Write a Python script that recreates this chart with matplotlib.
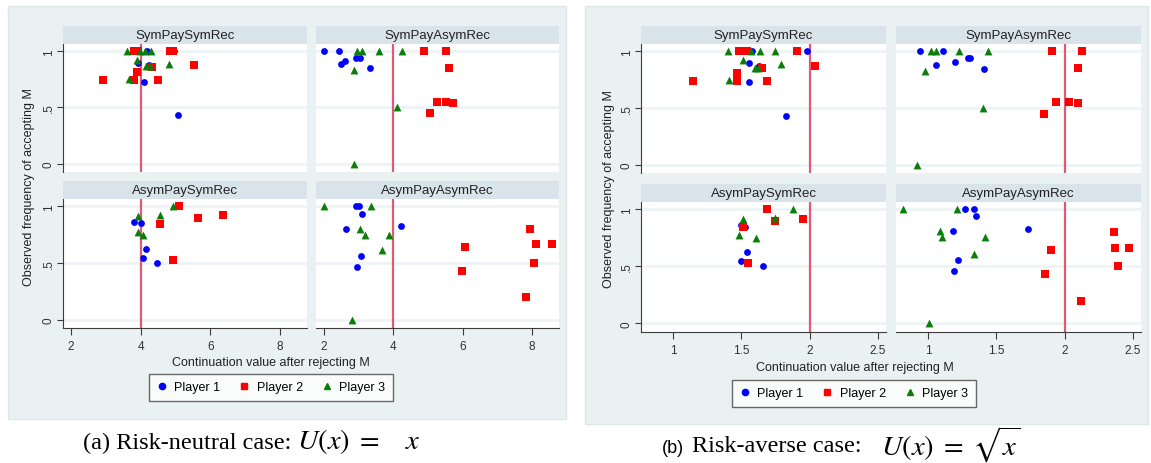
import matplotlib
matplotlib.use("Agg")
import matplotlib.pyplot as plt
from matplotlib.patches import Rectangle
from matplotlib.lines import Line2D

# facet titles (Stata by() layout, 2x2)
facets = ["SymPaySymRec", "SymPayAsymRec", "AsymPaySymRec", "AsymPayAsymRec"]
players = ["Player 1", "Player 2", "Player 3"]

# ---- (a) risk-neutral: (continuation value, frequency of accepting) ----
a_ss_p1 = [(3.93, .90), (4.09, .73), (4.23, .88), (4.18, 1.0), (4.97, 1.0), (5.07, .43)]
a_ss_p2 = [(2.93, .74), (3.82, .74), (3.89, .82), (3.82, 1.0), (3.92, 1.0), (4.33, .86),
           (4.49, .74), (4.85, 1.0), (4.93, 1.0), (5.52, .88)]
a_ss_p3 = [(3.60, 1.0), (3.99, 1.0), (4.13, 1.0), (4.31, 1.0), (3.91, .92), (3.68, .75),
           (4.16, .87), (4.26, .87), (4.82, .89)]

a_sa_p1 = [(2.00, 1.0), (2.44, 1.0), (2.49, .89), (2.61, .91), (2.92, .94), (3.04, .94), (3.33, .85)]
a_sa_p2 = [(4.89, 1.0), (5.51, 1.0), (5.60, .855), (5.27, .55), (5.51, .55), (5.73, .54), (5.05, .45)]
a_sa_p3 = [(2.94, 1.0), (3.09, 1.0), (3.58, 1.0), (4.26, 1.0), (2.86, .83), (4.10, .50), (2.86, 0.0)]

a_as_p1 = [(3.82, .865), (4.01, .85), (4.15, .625), (4.08, .546), (4.47, .50)]
a_as_p2 = [(5.09, 1.0), (4.56, .847), (5.65, .90), (6.36, .92), (4.93, .53)]
a_as_p3 = [(3.92, .915), (4.55, .92), (4.92, 1.0), (3.92, .776), (4.08, .746)]

a_aa_p1 = [(2.92, 1.0), (3.02, 1.0), (3.11, .935), (2.63, .80), (4.22, .826), (3.06, .557), (2.94, .46)]
a_aa_p2 = [(7.93, .80), (6.08, .64), (8.11, .666), (8.58, .666), (8.07, .50), (5.98, .43), (7.82, .20)]
a_aa_p3 = [(2.00, 1.0), (3.36, 1.0), (3.03, .80), (3.18, .75), (3.87, .75), (3.66, .61), (2.80, 0.0)]

# ---- (b) risk-averse ----
b_ss_p1 = [(1.56, .90), (1.56, .725), (1.63, .87), (1.58, 1.0), (1.98, 1.0), (1.83, .43)]
b_ss_p2 = [(1.149, .74), (1.47, .74), (1.47, .81), (1.48, 1.0), (1.51, 1.0), (1.54, 1.0),
           (1.65, .85), (1.69, .74), (1.91, 1.0), (2.04, .87)]
b_ss_p3 = [(1.40, 1.0), (1.57, 1.0), (1.64, 1.0), (1.75, 1.0), (1.51, .92), (1.79, .89),
           (1.41, .745), (1.60, .85), (1.62, .85)]

b_sa_p1 = [(0.94, 1.0), (1.11, 1.0), (1.06, .88), (1.20, .91), (1.29, .94), (1.31, .94), (1.41, .84)]
b_sa_p2 = [(1.91, 1.0), (2.13, 1.0), (2.10, .85), (1.94, .55), (2.03, .55), (2.10, .54), (1.85, .45)]
b_sa_p3 = [(1.02, 1.0), (1.06, 1.0), (1.23, 1.0), (1.44, 1.0), (0.976, .83), (1.40, .50), (0.92, 0.0)]

b_as_p1 = [(1.497, .86), (1.53, .845), (1.54, .63), (1.495, .55), (1.66, .50)]
b_as_p2 = [(1.69, 1.0), (1.51, .85), (1.75, .90), (1.95, .92), (1.55, .53)]
b_as_p3 = [(1.51, .92), (1.75, .925), (1.88, 1.0), (1.485, .78), (1.61, .746)]

b_aa_p1 = [(1.27, 1.0), (1.34, 1.0), (1.35, .94), (1.18, .81), (1.73, .83), (1.22, .56), (1.19, .46)]
b_aa_p2 = [(2.36, .80), (1.90, .64), (2.37, .666), (2.47, .666), (2.39, .50), (1.86, .43), (2.12, .195)]
b_aa_p3 = [(0.82, 1.0), (1.21, 1.0), (1.09, .81), (1.10, .76), (1.42, .76), (1.34, .61), (1.01, 0.0)]

a_xticks = [2, 4, 6, 8]
b_xticks = [1, 1.5, 2, 2.5]

BG = "#eaf1f3"
STRIP = "#d8e3ea"
GRID = "#eef3f5"
AXC = "#3c3c3c"
COLORS = ["#0000ff", "#ff0000", "#0b7d0b"]
MARKERS = ["o", "s", "^"]
SIZES = [24, 30, 32]

plt.rcParams["font.family"] = ["Liberation Sans", "DejaVu Sans"]
plt.rcParams["mathtext.fontset"] = "stix"

W, H = 1151, 464
fig = plt.figure(figsize=(W / 100, H / 100), dpi=100)


def box(x0, y0, x1, y1):
    return [x0 / W, 1 - y1 / H, (x1 - x0) / W, (y1 - y0) / H]


def facet(x0, y0, x1, y1, title, series, xlim, ref, xticks, show_y, show_x):
    st = fig.add_axes(box(x0, y0 - 18, x1, y0))
    st.set_facecolor(STRIP)
    st.set_xticks([])
    st.set_yticks([])
    for s in st.spines.values():
        s.set_visible(False)
    st.text(0.5, 0.5, title, ha="center", va="center", fontsize=9.5, color="#222222")

    ax = fig.add_axes(box(x0, y0, x1, y1))
    ax.set_facecolor("white")
    ax.set_xlim(*xlim)
    ax.set_ylim(-0.075, 1.065)
    for yv in (0, 0.5, 1):
        ax.axhline(yv, color=GRID, lw=2, zorder=0)
    ax.axvline(ref, color="#e05a74", lw=1.6, zorder=1)
    for pts, c, m, sz in zip(series, COLORS, MARKERS, SIZES):
        ax.scatter([p[0] for p in pts], [p[1] for p in pts], c=c, marker=m, s=sz,
                   linewidths=0, zorder=3)
    for s in ["top", "right"]:
        ax.spines[s].set_visible(False)
    ax.spines["left"].set_visible(show_y)
    ax.spines["bottom"].set_visible(show_x)
    ax.spines["left"].set_color(AXC)
    ax.spines["bottom"].set_color(AXC)
    if show_y:
        ax.set_yticks([0, 0.5, 1])
        ax.set_yticklabels(["0", ".5", "1"], rotation=90, va="center")
        ax.tick_params(axis="y", length=4, color=AXC, labelsize=8.5, labelcolor="#333333", pad=2)
    else:
        ax.set_yticks([])
    if show_x:
        ax.set_xticks(xticks)
        ax.set_xticklabels([f"{t:g}" for t in xticks])
        ax.tick_params(axis="x", length=5, color=AXC, labelsize=8.5, labelcolor="#333333", pad=4)
    else:
        ax.set_xticks([])
    return ax


def panel(bg, cols, rows, data, xlim, ref, xticks, ylab_x, xlab, leg):
    fig.add_artist(Rectangle((bg[0] / W, 1 - bg[3] / H), (bg[2] - bg[0]) / W,
                             (bg[3] - bg[1]) / H, transform=fig.transFigure,
                             facecolor=BG, edgecolor="#dde6e9", lw=1, zorder=0))
    k = 0
    for r, (y0, y1) in enumerate(rows):
        for c, (x0, x1) in enumerate(cols):
            facet(x0, y0, x1, y1, facets[k], data[k], xlim, ref, xticks,
                  show_y=(c == 0), show_x=(r == 1))
            k += 1
    ymid = (rows[0][0] + rows[1][1]) / 2
    fig.text(ylab_x / W, 1 - ymid / H, "Observed frequency of accepting M", rotation=90,
             ha="center", va="center", fontsize=9, color="#222222")
    fig.text(xlab[0] / W, 1 - xlab[1] / H, "Continuation value after rejecting M",
             ha="center", va="center", fontsize=9, color="#222222")
    handles = [Line2D([], [], ls="", marker=m, color=c, ms=4.5) for m, c in zip(MARKERS, COLORS)]
    lg = fig.legend(handles, players, loc="center", bbox_to_anchor=(leg[0] / W, 1 - leg[1] / H),
                    ncol=3, fontsize=9, frameon=True, fancybox=False, edgecolor="#444444",
                    handlelength=0.8, handletextpad=0.6, columnspacing=1.5, borderpad=0.6)
    lg.get_frame().set_linewidth(1.0)


data_a = [[a_ss_p1, a_ss_p2, a_ss_p3], [a_sa_p1, a_sa_p2, a_sa_p3],
          [a_as_p1, a_as_p2, a_as_p3], [a_aa_p1, a_aa_p2, a_aa_p3]]
data_b = [[b_ss_p1, b_ss_p2, b_ss_p3], [b_sa_p1, b_sa_p2, b_sa_p3],
          [b_as_p1, b_as_p2, b_as_p3], [b_aa_p1, b_aa_p2, b_aa_p3]]

panel((8, 7, 566, 420), [(63, 307), (316, 559)], [(45, 173), (200, 329)],
      data_a, (1.77, 8.78), 4, a_xticks, 29, (271, 363), (271, 388))
panel((585, 7, 1148, 425), [(641, 886), (896, 1141)], [(45, 174), (203, 333)],
      data_b, (0.766, 2.56), 2, b_xticks, 609, (855, 368), (854, 394))

serif = ["Liberation Serif", "DejaVu Serif"]
fig.text(83 / W, 1 - 443 / H, "(a) Risk-neutral case:", family=serif, fontsize=17.5,
         ha="left", va="center")
fig.text(297 / W, 1 - 441 / H, r"$U(x)\;=\;\;\;\;x$", fontsize=20.5, ha="left", va="center")
fig.text(662 / W, 1 - 449 / H, "(b)", fontsize=13, ha="left", va="center")
fig.text(692 / W, 1 - 447 / H, "Risk-averse case:", family=serif, fontsize=17.5,
         ha="left", va="center")
fig.text(881 / W, 1 - 445 / H, r"$U(x)\;=\;\sqrt{x}$", fontsize=20.5, ha="left", va="center")

fig.savefig("out.png", dpi=100)
